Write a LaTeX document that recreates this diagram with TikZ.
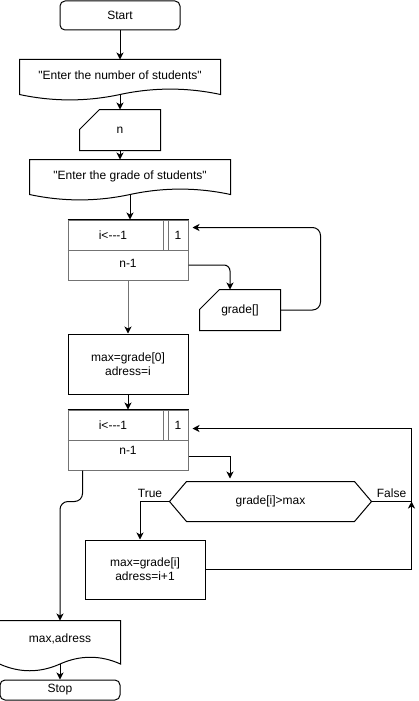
\documentclass[tikz,border=0pt]{standalone}
\usepackage{fontspec}
\setmainfont{Liberation Sans}[Ligatures=TeXOff]
\usepackage{tikz}
\usetikzlibrary{arrows.meta, calc}
\definecolor{loopgray}{HTML}{737373}

% outlines drawn round plain nodes
\newcommand{\cardoutline}[1]{%
  \draw (#1.south west) -- ([yshift=-20pt]#1.north west) -- ([xshift=20pt]#1.north west)
    -- (#1.north east) -- (#1.south east) -- cycle;}
\newcommand{\hexoutline}[1]{%
  \draw (#1.west) -- ([xshift=17pt]#1.north west) -- ([xshift=-17pt]#1.north east) -- (#1.east)
    -- ([xshift=-17pt]#1.south east) -- ([xshift=17pt]#1.south west) -- cycle;}
\newcommand{\docoutline}[2]{%
  \draw (#1.north west) -- (#1.north east) -- ($(#1.south east)+(0pt,{0.5*#2pt})$)
    .. controls ($(#1.south)!0.667!(#1.south east)+(0pt,{1.1*#2pt})$)
       and ($(#1.south)!0.333!(#1.south east)+(0pt,{1.1*#2pt})$) .. ($(#1.south)+(0pt,{0.5*#2pt})$)
    .. controls ($(#1.south)!0.333!(#1.south west)+(0pt,{-0.1*#2pt})$)
       and ($(#1.south)!0.667!(#1.south west)+(0pt,{-0.1*#2pt})$) .. ($(#1.south west)+(0pt,{0.5*#2pt})$)
    -- cycle;
  \coordinate (#1-wave) at ($(#1.south)+(0pt,{0.5*#2pt})$);}

\begin{document}
\begin{tikzpicture}[
    x=1pt, y=-1pt, line width=1pt,
    every node/.style={font=\fontsize{12}{14}\selectfont},
    term/.style={draw, rounded corners=5pt, minimum width=120pt, minimum height=29pt, inner sep=0pt},
    docu/.style={minimum height=40pt, inner sep=0pt, text height=9pt, text depth=#1},
    card/.style={minimum width=80pt, minimum height=40pt, inner sep=0pt},
    loopbox/.style={draw=loopgray, minimum width=120pt, minimum height=60pt, inner sep=0pt},
    loopline/.style={draw=loopgray},
    procbox/.style={draw, minimum width=120pt, minimum height=60pt, inner sep=0pt, align=center},
    hexa/.style={minimum width=201pt, minimum height=39pt, inner sep=0pt},
    arrow/.style={-{Stealth[length=7pt, width=7pt, inset=2pt, color=black]}}
  ]
  \useasboundingbox (0,0) rectangle (419,701);

  \node[term] (start) at (120,15.5) {Start};
  \node[docu=10pt, minimum width=200pt] (doc1) at (120,80) {"Enter the number of students"};
  \docoutline{doc1}{12}
  \node[card] (n) at (120,130) {n};
  \cardoutline{n}
  \node[docu=10pt, minimum width=200pt] (doc2) at (130,180) {"Enter the grade of students"};
  \docoutline{doc2}{12}

  % first loop
  \node[loopbox] (loop1) at (128,250) {};
  \node (loop1init) at (113,235) {i<---1};
  \node (loop1step) at (178,235) {1};
  \node (loop1end) at (128,263) {n-1};
  \node[card] (grade) at (240,310) {grade[]};
  \cardoutline{grade}

  \node[procbox] (box1) at (128,364) {max=grade[0]\\adress=i};

  % second loop
  \node[loopbox] (loop2) at (128,440) {};
  \node (loop2init) at (113,425) {i<---1};
  \node (loop2step) at (178,425) {1};
  \node (loop2end) at (128,450) {n-1};
  \node[hexa] (cond) at (270.5,501.5) {grade[i]>max};
  \hexoutline{cond}
  \node[procbox, minimum height=59pt] (box2) at (145,569.5) {max=grade[i]\\adress=i+1};

  \node[docu=16pt, minimum width=120pt, minimum height=50pt] (doc3) at (60,646) {max,adress};
  \docoutline{doc3}{15}
  \node[term, minimum height=20pt] (stop) at (60,690) {Stop};

  \foreach \lp in {loop1,loop2} {
    \draw[loopline] (\lp.west) -- (\lp.east);
    \draw[loopline] ([xshift=-25pt]\lp.north east) -- ([xshift=-25pt]\lp.east);
    \draw[loopline] ([xshift=-20pt]\lp.north east) -- ([xshift=-20pt]\lp.east);
    \draw (\lp.north west) -- (\lp.north east);
  }

  \draw[arrow] (start.south) -- (doc1.north);
  \draw[arrow] (doc1-wave) -- (n.north);
  \draw[arrow] (n.south) -- (n.south |- doc2.north);
  \draw[arrow] (doc2-wave) -- (doc2-wave |- loop1.north);
  \draw[arrow, rounded corners=6pt] ([yshift=-15pt]loop1.east) -| ([xshift=-10pt]grade.north);
  \draw[arrow, rounded corners=8pt] (grade.east) -- ++(40pt,0pt) |- ([xshift=4pt,yshift=-8pt]loop1.north east);
  \draw[arrow, loopgray] (loop1.south) -- (box1.north);
  \draw[arrow] (box1.south) -- (loop2.north);
  \draw[arrow] ([yshift=-16pt]loop2.east) -| ([xshift=-40.5pt,yshift=3pt]cond.north);
  \draw[arrow] (cond.west) -| node[pos=0.33, above, inner sep=3pt] (truelbl) {True} ([xshift=-5pt]box2.north);
  \coordinate (merge) at ([xshift=40pt]cond.east);
  \draw (cond.east) -- node[above, inner sep=3pt] (falselbl) {False} (merge);
  \draw[arrow] (box2.east) -| (merge);
  \draw[arrow] (merge) |- ([xshift=4pt,yshift=-19pt]loop2.north east);
  \draw[arrow, rounded corners=8pt] ([xshift=15pt]loop2.south west) -- ++(0pt,-31pt) -| (doc3.north);
  \draw[arrow] (doc3-wave) -- (stop.north);
\end{tikzpicture}
\end{document}
